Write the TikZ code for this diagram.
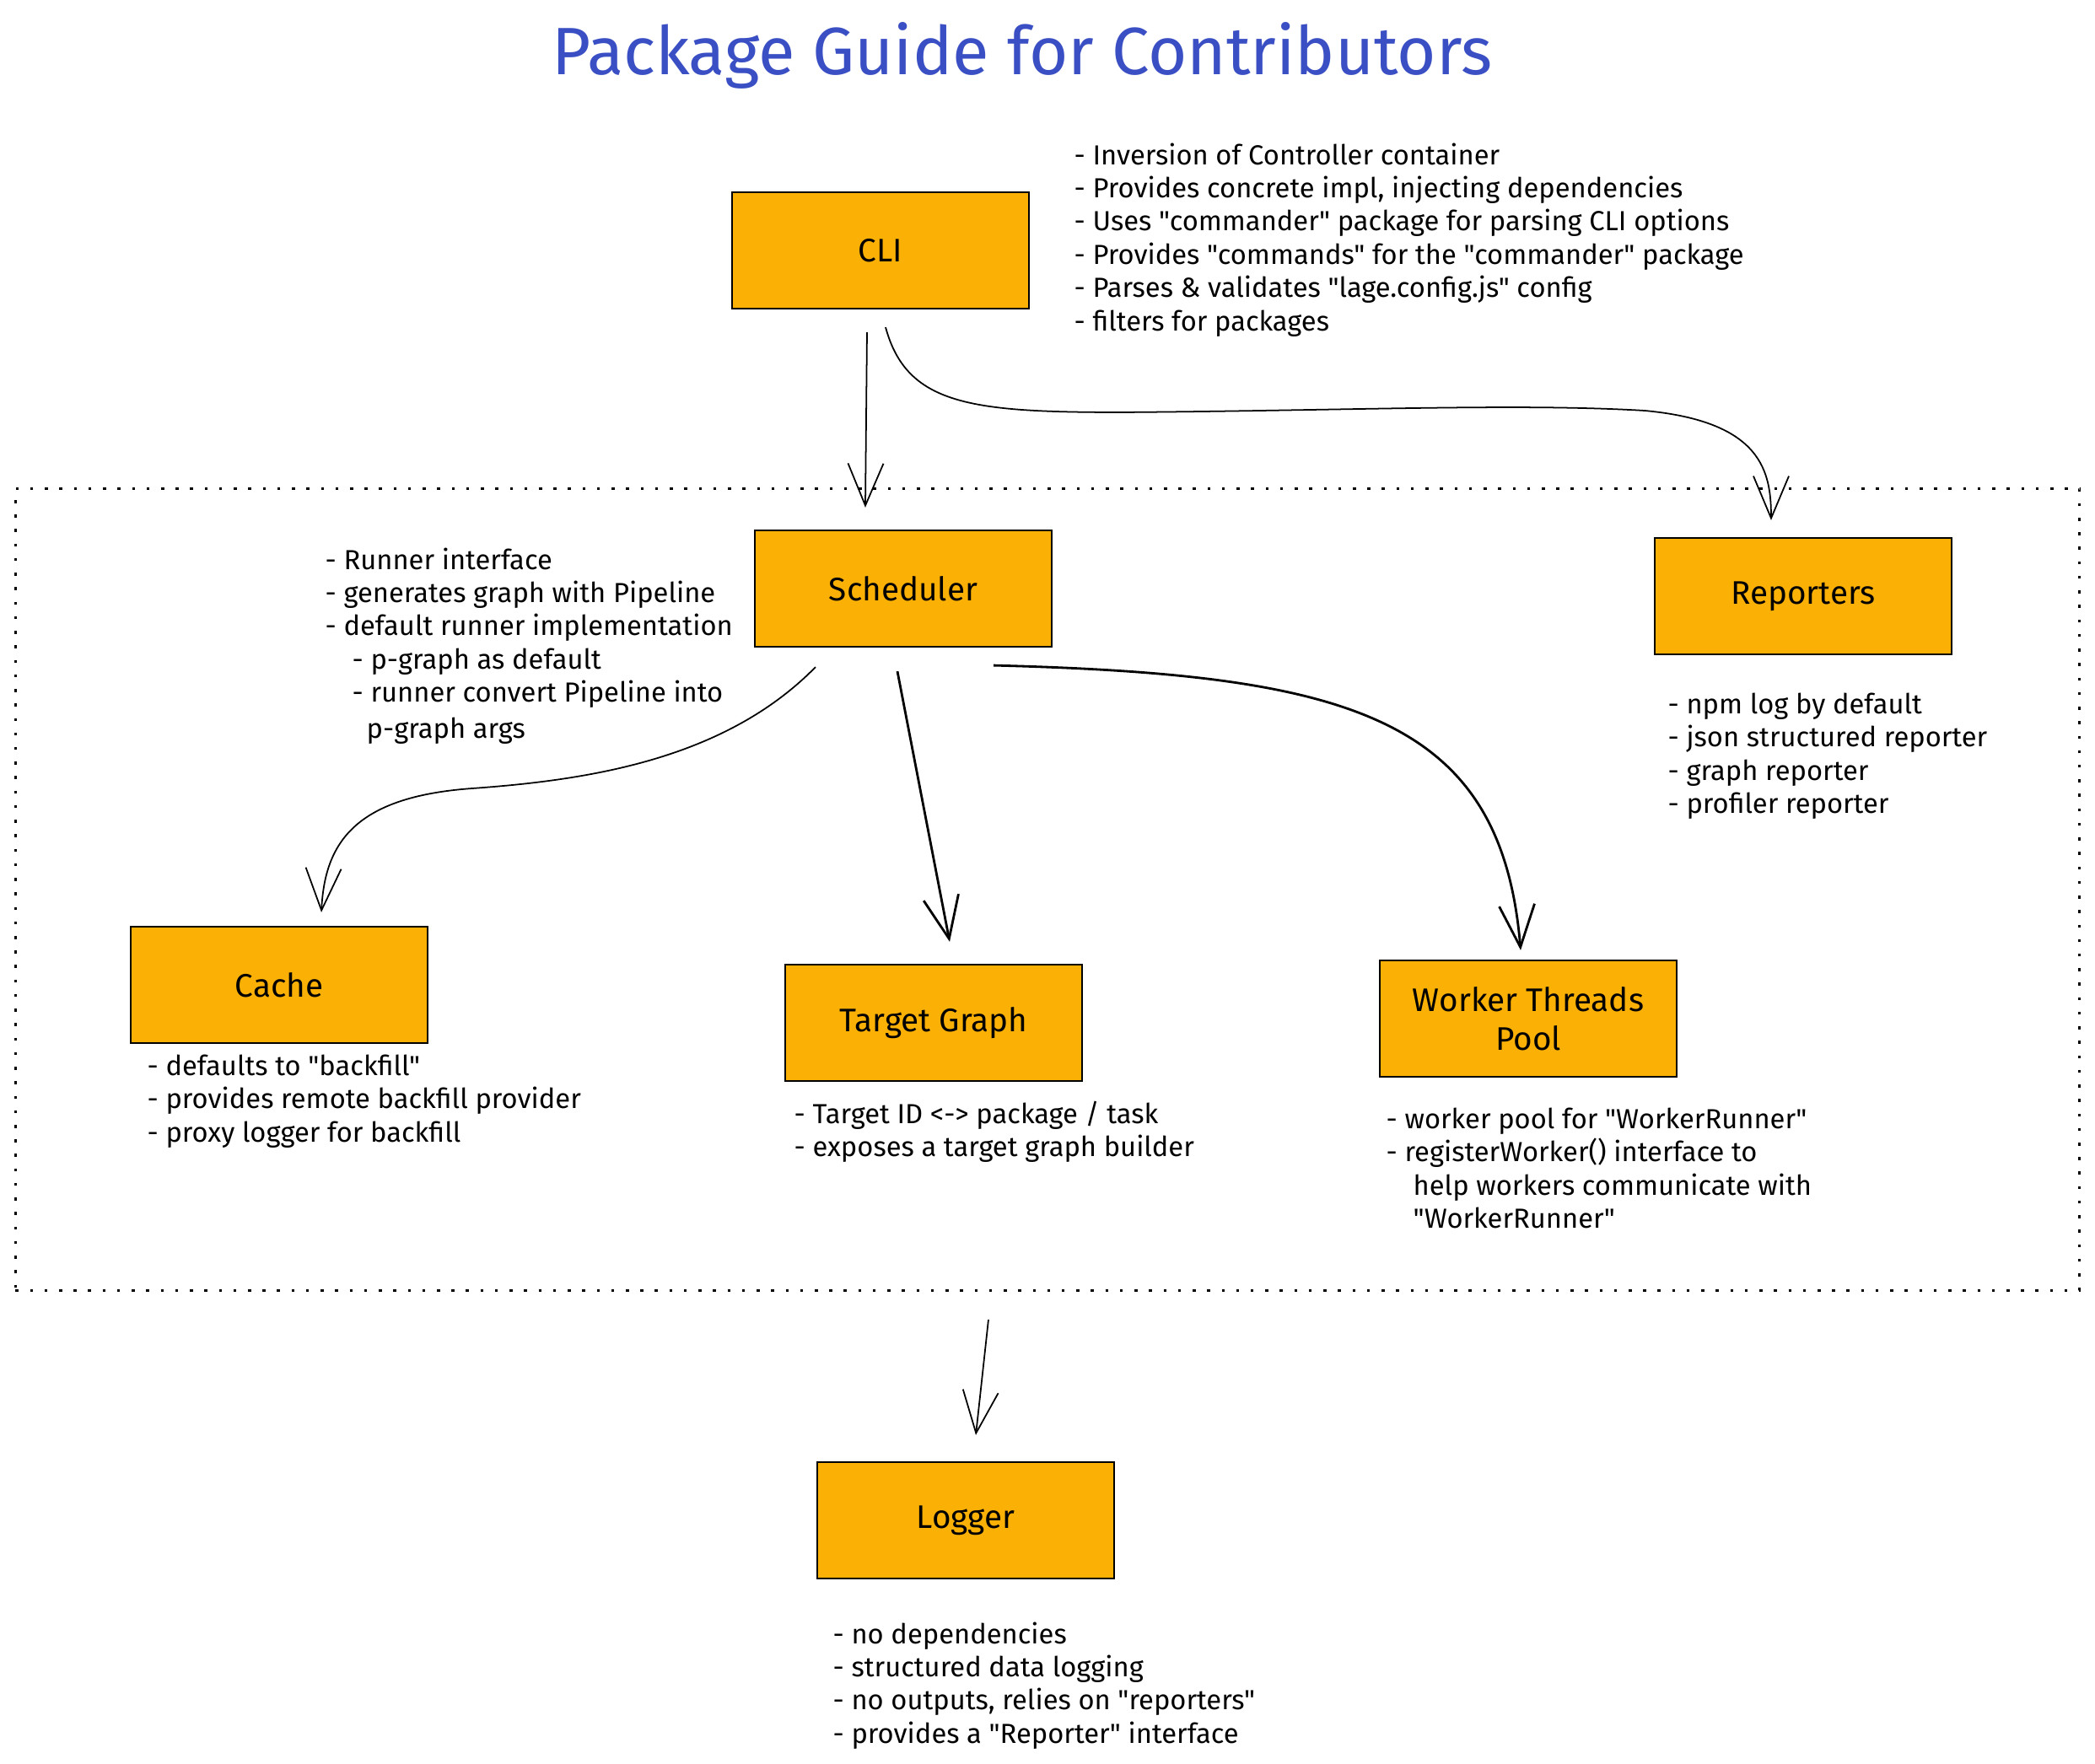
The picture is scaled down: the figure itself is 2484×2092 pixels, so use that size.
\documentclass[tikz,border=0pt]{standalone}
\usepackage{fontspec}
\setmainfont{Fira Sans}[Ligatures=TeXOff]
\usetikzlibrary{arrows.meta}
\definecolor{boxfill}{HTML}{FAB005}
\definecolor{titleblue}{HTML}{3B4FC4}

\tikzset{
    pkg box/.style={draw=black, fill=boxfill, line width=0.6pt, minimum width=3.52cm, minimum height=1.38cm, inner sep=0pt, align=center, font=\fontsize{11}{13}\selectfont},
    note/.style={anchor=north west, inner sep=0pt, align=left, font=\fontsize{9.3}{11.2}\selectfont},
    link/.style={line width=0.5pt, -{Straight Barb[length=5mm,width=4.2mm]}},
    heavy link/.style={link, line width=0.8pt},
    group frame/.style={draw=black, line width=1pt, dash pattern=on 1pt off 3.9pt, minimum width=24.46cm, minimum height=9.5cm, inner sep=0pt},
}

\begin{document}
\begin{tikzpicture}[x=0.01cm, y=-0.01cm]
    \useasboundingbox (0,0) rectangle (2484,2092);
    \node[font=\fontsize{22.6}{26}\selectfont, text=titleblue] (title) at (1212,66) {Package Guide for Contributors};

    \node[group frame] (core) at (1242,1055) {};

    \node[pkg box] (cli) at (1044,297) {CLI};
    \node[pkg box] (sched) at (1071,698) {Scheduler};
    \node[pkg box] (rep) at (2138,707) {Reporters};
    \node[pkg box] (cache) at (331,1168) {Cache};
    \node[pkg box] (target) at (1107,1213) {Target Graph};
    \node[pkg box] (worker) at (1812,1208) {Worker Threads\\Pool};
    \node[pkg box] (logger) at (1145,1803) {Logger};

    \node[note] (cli notes) at (1273,169) {- Inversion of Controller container\\
        - Provides concrete impl, injecting dependencies\\
        - Uses "commander" package for parsing CLI options\\
        - Provides "commands" for the "commander" package\\
        - Parses \& validates "lage.config.js" config\\
        - filters for packages};
    \node[note] (sched notes) at (385,649) {- Runner interface\\
        - generates graph with Pipeline\\
        - default runner implementation\\
        \hspace*{0.32cm}- p-graph as default\\
        \hspace*{0.32cm}- runner convert Pipeline into\\[1pt]
        \hspace*{0.49cm}p-graph args};
    \node[note] (rep notes) at (1977,821) {- npm log by default\\
        - json structured reporter\\
        - graph reporter\\
        - profiler reporter};
    \node[note] (cache notes) at (174,1250) {- defaults to "backfill"\\
        - provides remote backfill provider\\
        - proxy logger for backfill};
    \node[note] (target notes) at (941,1305) {- Target ID <-> package / task\\
        - exposes a target graph builder};
    \node[note] (worker notes) at (1643,1313) {- worker pool for "WorkerRunner"\\
        - registerWorker() interface to\\
        \hspace*{0.32cm}help workers communicate with\\
        \hspace*{0.32cm}"WorkerRunner"};
    \node[note] (logger notes) at (987,1923) {- no dependencies\\
        - structured data logging\\
        - no outputs, relies on "reporters"\\
        - provides a "Reporter" interface};

    \draw[link] ([xshift=-0.16cm, yshift=-0.27cm]cli.south) -- ([xshift=-0.45cm, yshift=0.26cm]sched.north);
    \draw[link] ([xshift=0.06cm, yshift=-0.21cm]cli.south) .. controls (1075,480) and (1150,489) .. (1330,489)
        .. controls (1600,487) and (1800,478) .. (1950,487)
        .. controls (2090,500) and (2100,560) .. ([xshift=-0.38cm, yshift=0.20cm]rep.north);
    \draw[link] ([xshift=-1.04cm, yshift=-0.23cm]sched.south) .. controls (860,900) and (700,925) .. (560,935)
        .. controls (420,945) and (385,1000) .. ([xshift=0.50cm, yshift=0.16cm]cache.north);
    \draw[heavy link] ([xshift=-0.07cm, yshift=-0.28cm]sched.south) -- ([xshift=0.19cm, yshift=0.26cm]target.north);
    \draw[heavy link] ([xshift=1.07cm, yshift=-0.21cm]sched.south) .. controls (1600,800) and (1780,850) .. ([xshift=-0.09cm, yshift=0.11cm]worker.north);
    \draw[link] ([xshift=-0.70cm, yshift=-0.33cm]core.south) -- ([xshift=0.12cm, yshift=0.31cm]logger.north);
\end{tikzpicture}
\end{document}
